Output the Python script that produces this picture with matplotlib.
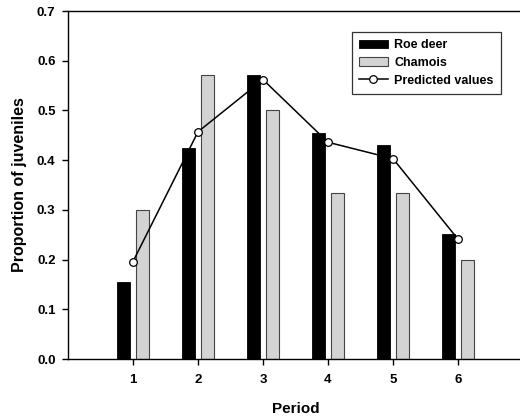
import matplotlib
matplotlib.use("Agg")
import matplotlib.pyplot as plt
import numpy as np

periods = [1, 2, 3, 4, 5, 6]
roe_deer = [0.155, 0.424, 0.572, 0.455, 0.430, 0.252]
chamois = [0.300, 0.572, 0.500, 0.333, 0.333, 0.200]
predicted = [0.196, 0.457, 0.562, 0.436, 0.403, 0.241]
yticks = [0.0, 0.1, 0.2, 0.3, 0.4, 0.5, 0.6, 0.7]

plt.rcParams['font.family'] = ['Liberation Sans', 'DejaVu Sans']
plt.rcParams['font.weight'] = 'bold'

fig = plt.figure(figsize=(5.2, 4.18), dpi=100)
ax = fig.add_axes([68/520, 59/418, 455/520, 348/418])

x = np.array(periods, dtype=float)
w = 0.19
off = 0.145
b1 = ax.bar(x - off, roe_deer, width=w, color='black', edgecolor='black', linewidth=0.6,
            label='Roe deer', zorder=2)
b2 = ax.bar(x + off, chamois, width=w, color='#d3d3d3', edgecolor='#444444', linewidth=0.8,
            label='Chamois', zorder=2)
ln, = ax.plot(x, predicted, color='black', linewidth=1.1, marker='o', markersize=5.5,
              markerfacecolor='white', markeredgecolor='black', markeredgewidth=0.9,
              label='Predicted values', zorder=3)

ax.set_xlim(0, 7)
ax.set_ylim(0, 0.7)
ax.set_xticks(periods)
ax.set_xticklabels([str(p) for p in periods])
ax.set_yticks(yticks)
ax.set_yticklabels([f"{v:.1f}" for v in yticks])

for s in ['left', 'bottom', 'top']:
    ax.spines[s].set_linewidth(1.0)
    ax.spines[s].set_color('black')
ax.spines['right'].set_visible(False)

ax.tick_params(axis='both', direction='out', length=4, width=1.0, labelsize=9.5)
ax.tick_params(axis='x', pad=7)
ax.tick_params(axis='y', pad=5)
for lab in ax.get_xticklabels() + ax.get_yticklabels():
    lab.set_fontweight('bold')

ax.set_xlabel('Period', fontsize=11, fontweight='bold', labelpad=11)
ax.set_ylabel('Proportion of juveniles', fontsize=11.5, fontweight='bold', labelpad=7)

leg = ax.legend(handles=[b1, b2, ln], loc='upper right', bbox_to_anchor=(0.9516, 0.9397),
                fontsize=9, frameon=True, fancybox=False, edgecolor='#333333', framealpha=1,
                handlelength=2.3, handletextpad=0.5, labelspacing=0.45, borderpad=0.6,
                borderaxespad=0)
leg.get_frame().set_linewidth(0.9)
for t in leg.get_texts():
    t.set_fontweight('bold')

fig.savefig('out.png', dpi=100)
